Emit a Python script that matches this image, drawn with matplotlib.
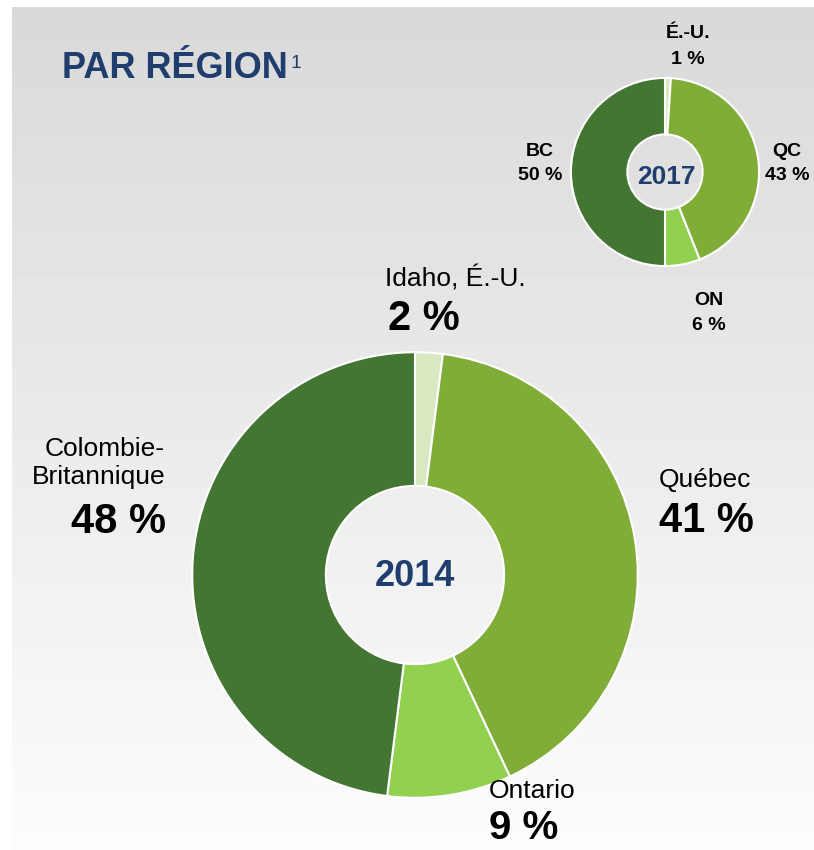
import numpy as np
import matplotlib
matplotlib.use("Agg")
import matplotlib.pyplot as plt

plt.rcParams['font.family'] = ['Liberation Sans', 'DejaVu Sans']

# donnees
regions_2014 = ["Idaho, É.-U.", "Québec", "Ontario", "Colombie-\nBritannique"]
valeurs_2014 = [2, 41, 9, 48]
regions_2017 = ["É.-U.", "QC", "ON", "BC"]
valeurs_2017 = [1, 43, 6, 50]
couleurs = ["#d8e8c0", "#80ac38", "#92d050", "#447633"]

W, H = 814, 850
BLEU = "#1f3d6d"

fig = plt.figure(figsize=(W / 100, H / 100), dpi=100)
fig.patch.set_facecolor("white")

# fond degrade gris
bg = fig.add_axes([12 / W, 0, 1 - 12 / W, 1 - 7 / H])
grad = np.linspace(0.85, 0.99, 256).reshape(-1, 1)
bg.imshow(grad, cmap="gray", vmin=0, vmax=1, aspect="auto", extent=[0, 1, 0, 1], origin="upper")
bg.axis("off")


def txt(x, y, s, **kw):
    fig.text(x / W, 1 - y / H, s, **kw)


def donut(cx, cy, r, valeurs):
    ax = fig.add_axes([(cx - r) / W, (H - cy - r) / H, 2 * r / W, 2 * r / H])
    ax.pie(valeurs, colors=couleurs, startangle=90, counterclock=False, radius=1,
           wedgeprops=dict(width=0.6, edgecolor="white", linewidth=1.5))
    ax.set_xlim(-1.01, 1.01)
    ax.set_ylim(-1.01, 1.01)
    ax.set_aspect("equal")
    ax.axis("off")
    return ax


# titre
txt(62, 68, "PAR RÉGION", fontsize=26, fontweight="bold", color=BLEU, va="center")
txt(291, 63, "1", fontsize=14, color=BLEU, va="center")

# grand anneau 2014
donut(415, 575, 225, valeurs_2014)
txt(415, 577, "2014", fontsize=26, fontweight="bold", color=BLEU, ha="center", va="center")

txt(385, 279, regions_2014[0], fontsize=19, ha="left", va="center")
txt(388, 319, f"{valeurs_2014[0]} %", fontsize=30, fontweight="bold", ha="left", va="center")
txt(659, 480, regions_2014[1], fontsize=19, ha="left", va="center")
txt(659, 521, f"{valeurs_2014[1]} %", fontsize=30, fontweight="bold", ha="left", va="center")
txt(489, 791, regions_2014[2], fontsize=19, ha="left", va="center")
txt(489, 828, f"{valeurs_2014[2]} %", fontsize=29, fontweight="bold", ha="left", va="center")
txt(165, 463, regions_2014[3], fontsize=19, ha="right", va="center", linespacing=1.2)
txt(166, 522, f"{valeurs_2014[3]} %", fontsize=30, fontweight="bold", ha="right", va="center")

# petit anneau 2017
donut(665, 172, 95, valeurs_2017)
txt(666, 177, "2017", fontsize=19, fontweight="bold", color=BLEU, ha="center", va="center")

petits = [(688, 33, 60), (787, 152, 175), (709, 300, 325), (540, 152, 175)]
for (x, y1, y2), nom, v in zip(petits, regions_2017, valeurs_2017):
    txt(x, y1, nom, fontsize=14, fontweight="bold", ha="center", va="center")
    txt(x, y2, f"{v} %", fontsize=14, fontweight="bold", ha="center", va="center")

fig.savefig("out.png", dpi=100)
